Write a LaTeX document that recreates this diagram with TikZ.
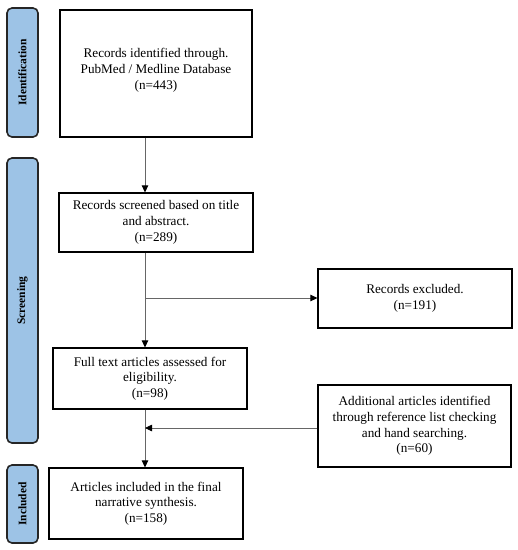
\documentclass[tikz,border=0pt]{standalone}
\usepackage{fontspec}
\setmainfont{Liberation Serif}
\usetikzlibrary{arrows.meta}
\definecolor{stageblue}{HTML}{9DC3E6}
\begin{document}
\begin{tikzpicture}[x=1pt,y=-1pt,
  box/.style={draw=black,line width=1.2pt,align=center,inner sep=2pt,
    font=\fontsize{13.2}{15.7}\selectfont},
  stage/.style={draw=black!85,line width=1.6pt,fill=stageblue,rounded corners=5pt,
    minimum width=31pt,inner sep=0pt},
  stagetext/.style={rotate=90,font=\bfseries\fontsize{11.5}{13}\selectfont},
  conn/.style={draw=black!60,line width=0.8pt},
  arr/.style={conn,-{Triangle[length=7pt,width=6.5pt,fill=black,color=black]}}]
\useasboundingbox (0,0) rectangle (518,550);
% stage labels
\node[stage,minimum height=129pt] (sid) at (22.5,72.5) {};
\node[stagetext] (tid) at (sid.center) {Identification};
\node[stage,minimum height=285pt] (ssc) at (22.5,300.5) {};
\node[stagetext] (tsc) at (ssc.center) {Screening};
\node[stage,minimum height=78pt] (sin) at (22.5,504) {};
\node[stagetext] (tin) at (sin.center) {Included};
% boxes
\node[box,minimum width=192pt,minimum height=127pt] (b1) at (156,73.5)
  {Records identified through.\\PubMed / Medline Database\\(n=443)\\[-6pt]\mbox{}};
\node[box,minimum width=194pt,minimum height=59pt] (b2) at (156,222.5)
  {Records screened based on title\\and abstract.\\(n=289)};
\node[box,minimum width=194pt,minimum height=59pt] (bx) at (415,298.5)
  {Records excluded.\\(n=191)};
\node[box,minimum width=194pt,minimum height=61pt] (b3) at (150,378.5)
  {Full text articles assessed for\\eligibility.\\(n=98)};
\node[box,minimum width=193pt,minimum height=82pt] (ba) at (414.5,426)
  {Additional articles identified\\through reference list checking\\and hand searching.\\(n=60)};
\node[box,minimum width=194pt,minimum height=71pt] (b4) at (146,503.5)
  {Articles included in the final\\narrative synthesis.\\(n=158)};
% connectors
\coordinate (lx) at (145,0);
\coordinate (j1) at (145,298);
\coordinate (j2) at (145,428);
\draw[arr] (b1.south -| lx) -- (b2.north -| lx);
\draw[arr] (b2.south -| lx) -- (b3.north -| lx);
\draw[arr] (j1) -- (bx.west |- j1);
\draw[arr] (b3.south -| lx) -- (b4.north -| lx);
\draw[arr] (ba.west |- j2) -- (j2);
\end{tikzpicture}
\end{document}
